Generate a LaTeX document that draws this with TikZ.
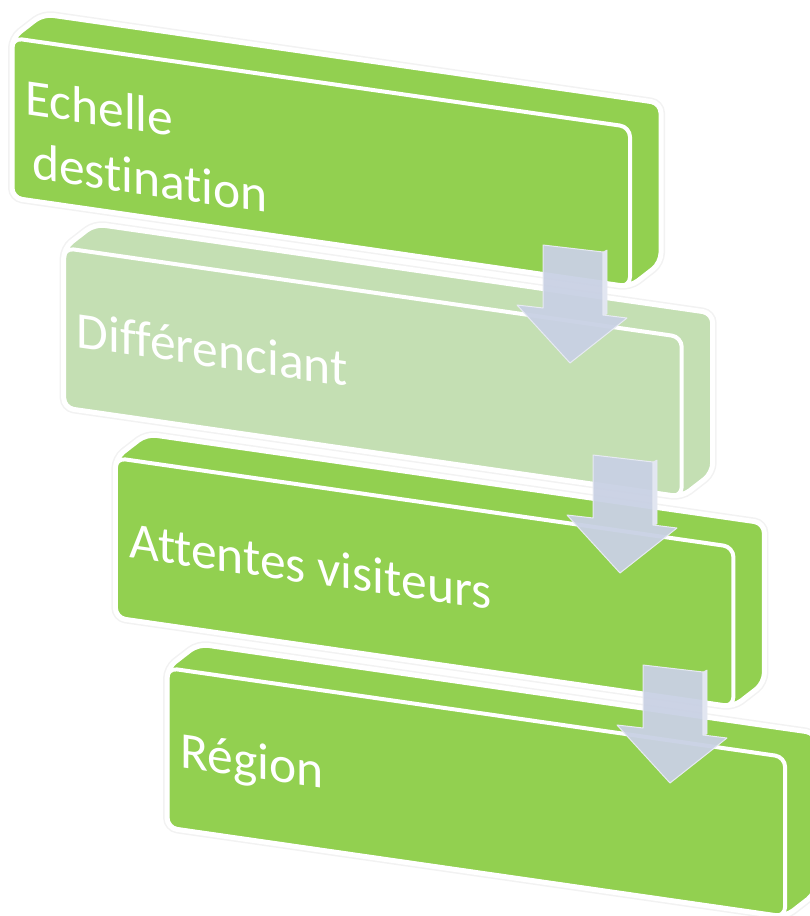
\documentclass[tikz,border=0pt]{standalone}
\usepackage{fontspec}
\setmainfont{Carlito}[Ligatures={NoCommon,NoRequired,NoContextual}]
\definecolor{gA}{HTML}{92D050}
\definecolor{gB}{HTML}{C4DFB3}
\definecolor{arrc}{HTML}{C9D1E4}
\definecolor{arrside}{HTML}{E2E6F1}
\tikzset{
  halo/.style={draw=black!5, line width=8pt, rounded corners=10pt},
  slabbody/.style={draw=white, line width=5pt, rounded corners=10pt},
  frontface/.style={draw=white, line width=4pt, rounded corners=10pt},
  lbl/.style={text=white, font=\fontsize{51.5}{63}\selectfont, anchor=base west, inner sep=0pt, transform shape},
  arrowbody/.style={fill=arrc, draw=white!55!arrc, line width=1pt, line join=round, fill opacity=0.95},
  arrowside/.style={fill=arrside, draw=white!55!arrc, line width=0.6pt, line join=round},
}
\newcommand\slabshape[3]{%
  \begin{scope}[shift={(#1,#2)}, yslant=-0.144]
    \path[halo] (0,0) -- (31,-28.5) -- (649,-28.5) -- (649,131.5) -- (618,160) -- (0,160) -- cycle;
    \path[slabbody, fill=#3] (0,0) -- (31,-28.5) -- (649,-28.5) -- (649,131.5) -- (618,160) -- (0,160) -- cycle;
    \draw[frontface] (0,0) rectangle (618,160);
  \end{scope}}
\newcommand\blockarrow[2]{%
  \begin{scope}[shift={(#1,#2)}]
    \path[arrowbody] (0,0) -- (60,7) -- (60,70) -- (84,73) -- (27,118) -- (-26,60) -- (0,63) -- cycle;
    \path[arrowside] (60,7) -- (64,5) -- (64,69) -- (60,70) -- cycle;
  \end{scope}}
\begin{document}
\begin{tikzpicture}[x=1pt, y=-1pt]
  \useasboundingbox (0,0) rectangle (809,916);
  % block 1
  \slabshape{12}{38}{gA}
  \begin{scope}[shift={(12,38)}, yslant=-0.144]
    \node[lbl] (t1a) at (13,74.5) {Echelle};
    \node[lbl] (t1b) at (20,138) {destination};
  \end{scope}
  % block 2
  \slabshape{63.7}{248}{gB}
  \begin{scope}[shift={(63.7,248)}, yslant=-0.144]
    \node[lbl] (t2) at (13,97.5) {Différenciant};
  \end{scope}
  % block 3
  \slabshape{115.4}{458}{gA}
  \begin{scope}[shift={(115.4,458)}, yslant=-0.144]
    \node[lbl] (t3) at (14,97.5) {Attentes visiteurs};
  \end{scope}
  % block 4
  \slabshape{167.1}{668}{gA}
  \begin{scope}[shift={(167.1,668)}, yslant=-0.144]
    \node[lbl] (t4) at (13,97.5) {Région};
  \end{scope}
  % arrows
  \blockarrow{543}{245}
  \blockarrow{593}{455}
  \blockarrow{643}{665}
\end{tikzpicture}
\end{document}
